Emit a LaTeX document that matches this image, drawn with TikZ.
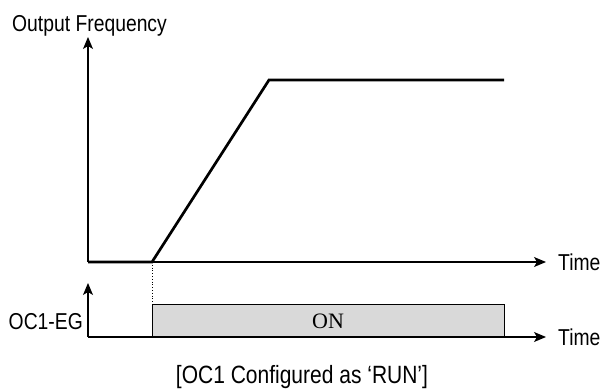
\documentclass[tikz,border=0pt]{standalone}
\usepackage{fontspec}
\setmainfont{Liberation Sans}[FakeStretch=0.84]
\newfontfamily\onfont{Liberation Serif}
\usetikzlibrary{arrows.meta}

\begin{document}
\begin{tikzpicture}[x=1pt,y=-1pt,
  axis/.style={line width=1.1pt,-{Stealth[length=12pt,width=10pt,inset=3pt]}},
  signal/.style={line width=2.7pt,line join=miter},
  lbl/.style={font=\fontsize{23}{27}\selectfont,inner sep=0pt}]
\useasboundingbox (0,0) rectangle (602,388);
\coordinate (fo) at (88,262);
\coordinate (ftop) at (88,37);
\coordinate (fend) at (546,262);
\coordinate (go) at (88,337);
\coordinate (gtop) at (88,283);
\coordinate (gend) at (546,337);
\coordinate (start) at (152,262);
\coordinate (reach) at (269,80);
\coordinate (hold) at (504,80);
\draw [fill=gray!30,line width=1pt] (152,304) rectangle (504,337);
\draw [dotted,line width=0.8pt] (start)--(152,304);
\draw [axis] (fo)--(ftop);
\draw [axis] (fo)--(fend);
\draw [axis] (go)--(gtop);
\draw [axis] (go)--(gend);
\draw [signal] (fo)--(start)--(reach)--(hold);
\node [lbl,anchor=base west] (freq) at (12,31.5) {Output Frequency};
\node [lbl,anchor=west] (time1) at (558,262) {Time};
\node [lbl,anchor=west] (time2) at (558,337) {Time};
\node [lbl,anchor=east] (oc) at (83,322) {OC1-EG};
\node [font=\onfont\fontsize{22}{26}\selectfont,inner sep=0pt] (on) at (328,321) {ON};
\node [lbl,font=\fontsize{25}{29}\selectfont,anchor=base] (cap) at (302,383) {[OC1 Configured as ‘RUN’]};
\end{tikzpicture}
\end{document}
